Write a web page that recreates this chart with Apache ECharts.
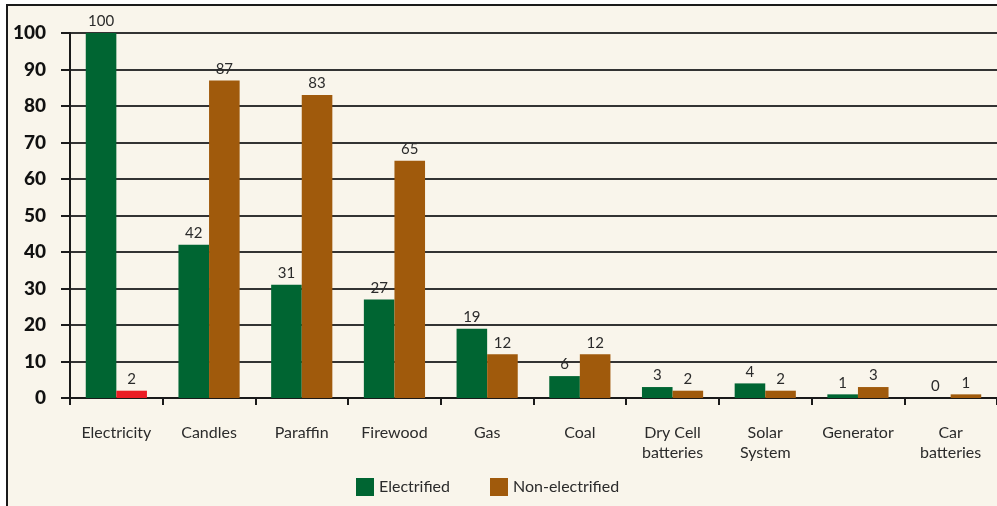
<!DOCTYPE html>
<html>
<head>
<meta charset="utf-8">
<script src="https://cdn.jsdelivr.net/npm/echarts@6/dist/echarts.min.js"></script>
<style>
  html, body { margin: 0; padding: 0; background: #ffffff; }
  #chart { width: 997px; height: 506px; }
</style>
</head>
<body>
<div id="chart"></div>
<script>
// Energy sources used by electrified and non-electrified households (%)
const categories = ['Electricity', 'Candles', 'Paraffin', 'Firewood', 'Gas', 'Coal',
  'Dry Cell\nbatteries', 'Solar\nSystem', 'Generator', 'Car\nbatteries'];
const electrified = [100, 42, 31, 27, 19, 6, 3, 4, 1, 0];
const nonElectrified = [2, 87, 83, 65, 12, 12, 2, 2, 3, 1];
const yTicks = [0, 10, 20, 30, 40, 50, 60, 70, 80, 90, 100];

const GREEN = '#006532';
const BROWN = '#a05a0c';
const RED = '#ec1c24';
const FONT = 'Lato, "Open Sans", sans-serif';

const chart = echarts.init(document.getElementById('chart'), null, { renderer: 'canvas' });

const labelStyle = {
  show: true,
  position: 'top',
  distance: 4,
  color: '#2b2b2b',
  fontFamily: FONT,
  fontSize: 15
};

chart.setOption({
  backgroundColor: '#ffffff',
  animation: false,
  graphic: [
    {
      type: 'rect',
      z: -10,
      shape: { x: 7, y: 5, width: 1000, height: 510 },
      style: { fill: '#f9f5eb', stroke: null }
    },
    {
      type: 'polyline',
      z: 100,
      shape: { points: [[7, 510], [7, 5], [1000, 5]] },
      style: { stroke: '#1a1a1a', lineWidth: 2, fill: null }
    }
  ],
  grid: { left: 70, top: 33, width: 935, height: 365, containLabel: false },
  legend: {
    bottom: 5,
    left: 351,
    itemWidth: 18,
    itemHeight: 18,
    itemGap: 40,
    icon: 'rect',
    textStyle: { fontFamily: FONT, fontSize: 16, color: '#2b2b2b' },
    data: ['Electrified', 'Non-electrified']
  },
  xAxis: {
    type: 'category',
    data: categories,
    axisLine: { lineStyle: { color: '#1a1a1a', width: 2 } },
    axisTick: { show: true, length: 7, alignWithLabel: false, lineStyle: { color: '#1a1a1a', width: 2 } },
    axisLabel: {
      color: '#2b2b2b',
      fontFamily: FONT,
      fontSize: 16,
      lineHeight: 20,
      margin: 25,
      interval: 0,
      verticalAlign: 'top'
    }
  },
  yAxis: {
    type: 'value',
    min: 0,
    max: 100,
    interval: 10,
    axisLine: { show: true, lineStyle: { color: '#1a1a1a', width: 2 } },
    axisTick: { show: true, length: 9, lineStyle: { color: '#1a1a1a', width: 2 } },
    splitLine: { show: true, lineStyle: { color: '#333333', width: 2 } },
    axisLabel: {
      color: '#111111',
      fontFamily: FONT,
      fontWeight: 900,
      fontSize: 19,
      margin: 24,
      formatter: v => (yTicks.includes(v) ? String(v) : '')
    }
  },
  series: [
    {
      name: 'Electrified',
      type: 'bar',
      data: electrified,
      barGap: '0%',
      barCategoryGap: '34%',
      itemStyle: { color: GREEN },
      label: labelStyle
    },
    {
      name: 'Non-electrified',
      type: 'bar',
      data: nonElectrified.map((v, i) => i === 0 ? { value: v, itemStyle: { color: RED } } : v),
      itemStyle: { color: BROWN },
      label: labelStyle
    }
  ]
});
</script>
</body>
</html>
